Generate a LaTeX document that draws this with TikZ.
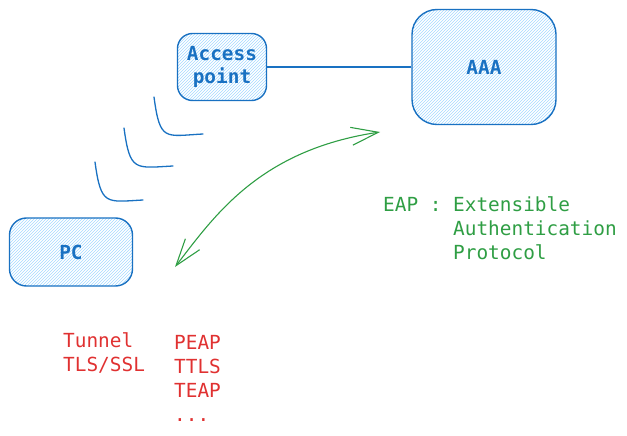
\documentclass[tikz,border=0pt]{standalone}
\usepackage{fontspec}
\setmonofont{DejaVu Sans Mono}
\usepackage{tikz}
\usetikzlibrary{arrows.meta,patterns,positioning}
\definecolor{skblue}{HTML}{1971C2}
\definecolor{skfill}{HTML}{A5D8FF}
\definecolor{skgreen}{HTML}{2F9E44}
\definecolor{skred}{HTML}{E03131}
\newcommand{\skfont}{\ttfamily\fontsize{19.4}{23.5}\selectfont}

\begin{document}
\begin{tikzpicture}[x=1pt,y=-1pt,
	box/.style={draw=skblue, line width=1.4pt, pattern=north east lines, pattern color=skfill, text=skblue, font=\skfont\bfseries, align=center, inner sep=0pt},
	link/.style={skblue, line width=1.3pt},
	wave/.style={skblue, line width=1.3pt, line cap=round},
	eaparrow/.style={skgreen, line width=1.1pt, {Straight Barb[length=27pt,width=18pt]}-{Straight Barb[length=27pt,width=18pt]}},
	greentext/.style={text=skgreen, font=\skfont, inner sep=0pt, anchor=base west},
	redtext/.style={text=skred, font=\skfont, inner sep=0pt, anchor=base west}]
		\useasboundingbox (0,0) rectangle (627,436);
		\node[box, minimum width=89pt, minimum height=67pt, rounded corners=15pt] (ap) at (222,67) {Access\\point};
		\node[box, minimum width=144pt, minimum height=115pt, rounded corners=25pt] (aaa) at (484,67) {AAA};
		\node[box, minimum width=123pt, minimum height=68pt, rounded corners=17pt] (pc) at (71,252) {PC};
		\draw [link] (ap.east) to (aaa.west);
%		radio waves
		\draw [wave] (154,97) .. controls (160,142) and (165,136) .. (203,134);
		\draw [wave] (124,128) .. controls (130,172) and (135,168) .. (173,166);
		\draw [wave] (95,162) .. controls (101,206) and (106,202) .. (143,200);
		\coordinate (tippc) at (175,267);
		\coordinate (tipaaa) at (380,132);
		\draw [eaparrow] (tippc) .. controls (215,215) and (260,150) .. (tipaaa);
		\node[greentext] (eap) at (383,211) {EAP :};
		\node[greentext] (ext) at (453,211) {Extensible};
		\node[greentext] (auth) at (453,235) {Authentication};
		\node[greentext] (proto) at (453,259) {Protocol};
		\node[redtext] (tunnel) at (63,347) {Tunnel};
		\node[redtext] (tls) at (63,371) {TLS/SSL};
		\node[redtext] (peap) at (174,349) {PEAP};
		\node[redtext] (ttls) at (174,373) {TTLS};
		\node[redtext] (teap) at (174,397) {TEAP};
		\node[redtext] (more) at (174,421) {...};
	\end{tikzpicture}
\end{document}
